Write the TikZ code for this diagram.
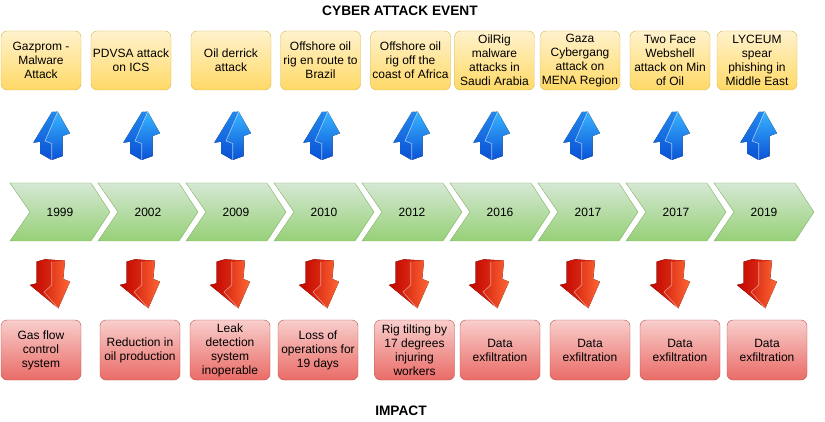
\documentclass[tikz,border=0pt]{standalone}
\usepackage{fontspec}
\setmainfont{Liberation Sans}
\usetikzlibrary{positioning}

\definecolor{evline}{HTML}{D6B656}
\definecolor{evtop}{HTML}{FFF2CC}
\definecolor{evbot}{HTML}{FFD966}
\definecolor{impline}{HTML}{B85450}
\definecolor{imptop}{HTML}{F8CECC}
\definecolor{impbot}{HTML}{EA6B66}
\definecolor{chline}{HTML}{82B366}
\definecolor{chtop}{HTML}{D5E8D4}
\definecolor{chbot}{HTML}{97D077}
\definecolor{bluehi}{HTML}{38B4FF}
\definecolor{bluelo}{HTML}{0A52D6}
\definecolor{redhi}{HTML}{FF6634}
\definecolor{redlo}{HTML}{C20600}

\tikzset{
  boxtxt/.style={font=\fontsize{12}{14}\selectfont, align=center, inner sep=1pt},
  evbox/.style={boxtxt, draw=evline, top color=evtop, bottom color=evbot,
    rounded corners=6pt, minimum width=80pt, minimum height=59pt},
  impbox/.style={boxtxt, draw=impline, top color=imptop, bottom color=impbot,
    rounded corners=6pt, minimum width=80pt, minimum height=60pt},
  chev/.style={draw=chline, top color=chtop, bottom color=chbot},
  yrtxt/.style={font=\fontsize{12}{14}\selectfont},
  ttl/.style={font=\fontsize{13.7}{16}\selectfont\bfseries},
  % 3d style arrow pointing up, origin at top left
  pics/evarrow/.style={code={
    \fill[top color=bluehi, bottom color=bluelo] (27.7,-1.7) -- (40,-23.3) -- (32.7,-26)
      -- (32.7,-46) -- (21.7,-50) -- (10,-43.3) -- (10,-31.7) -- (3.3,-32.7) -- (22,-2) -- cycle;
    \fill[bluelo, opacity=0.45] (3.3,-32.7) -- (22,-2) -- (27.7,-1.7) -- (15,-31)
      -- (21.7,-33.5) -- (21.7,-50) -- (10,-43.3) -- (10,-31.7) -- cycle;
    \draw[white, opacity=0.6, line width=0.6pt] (27.7,-1.7) -- (15,-31) -- (21.7,-33.5) -- (21.7,-50);
  }},
  % 3d style arrow pointing down, origin at top left
  pics/imparrow/.style={code={
    \fill[left color=redlo, right color=redhi] (6.7,-2.7) -- (15,-0.3) -- (35,-1.7)
      -- (33.3,-20) -- (40,-22.7) -- (28.3,-49.3) -- (0,-26) -- (6.7,-24.3) -- cycle;
    \fill[redlo, opacity=0.5] (6.7,-2.7) -- (15,-0.3) -- (35,-1.7) -- (21.7,-2.7) -- cycle;
    \fill[redlo, opacity=0.35] (6.7,-2.7) -- (21.7,-2.7) -- (21.7,-26) -- (14,-33)
      -- (28.3,-49.3) -- (0,-26) -- (6.7,-24.3) -- cycle;
    \draw[white, opacity=0.5, line width=0.6pt] (21.7,-2.7) -- (21.7,-26) -- (14,-33) -- (28.3,-49.3);
  }}
}

\begin{document}
\begin{tikzpicture}[x=1pt, y=1pt]
\useasboundingbox (0,0) rectangle (825,421);

% titles
\node[ttl] (evtitle) at (400,410) {CYBER ATTACK EVENT};
\node[ttl] (imptitle) at (401,10) {IMPACT};

% events
\foreach \i/\x/\t in {1/41/{Gazprom -\\Malware\\Attack},
    2/131/{PDVSA attack\\on ICS},
    3/231/{Oil derrick\\attack},
    4/320.5/{Offshore oil\\rig en route to\\Brazil},
    5/410.5/{Offshore oil\\rig off the\\coast of Africa},
    6/494.5/{OilRig\\malware\\attacks in\\Saudi Arabia},
    7/580/{Gaza\\Cybergang\\attack on\\MENA Region},
    8/670/{Two Face\\Webshell\\attack on Min\\of Oil},
    9/757/{LYCEUM\\spear\\phishing in\\Middle East}}
  \node[evbox] (ev\i) at (\x,360.5) {\t};

\foreach \x in {30,120,211,300,390,470,560,650,737}
  \pic at (\x,311) {evarrow};

% timeline
\foreach \i/\x/\yr in {1/10/1999,2/98/2002,3/186/2009,4/274/2010,5/362/2012,
    6/450/2016,7/538/2017,8/626/2017,9/714/2019}{
  \draw[chev] (\x,238) -- ++(81,0) -- ++(19,-29) -- ++(-19,-29) -- ++(-81,0) -- ++(20,29) -- cycle;
  \node[yrtxt] (yr\i) at (\x+50,209) {\yr};
}

\foreach \x in {30,120,210,299,389,469,560,650,737}
  \pic at (\x,162) {imparrow};

% impacts
\foreach \i/\x/\t in {1/41/{Gas flow\\control\\system},
    2/140/{Reduction in\\oil production},
    3/230/{Leak\\detection\\system\\inoperable},
    4/318/{Loss of\\operations for\\19 days},
    5/414.5/{Rig tilting by\\17 degrees\\injuring\\workers},
    6/500/{Data\\exfiltration},
    7/590/{Data\\exfiltration},
    8/680/{Data\\exfiltration},
    9/767/{Data\\exfiltration}}
  \node[impbox] (imp\i) at (\x,71) {\t};

\end{tikzpicture}
\end{document}
